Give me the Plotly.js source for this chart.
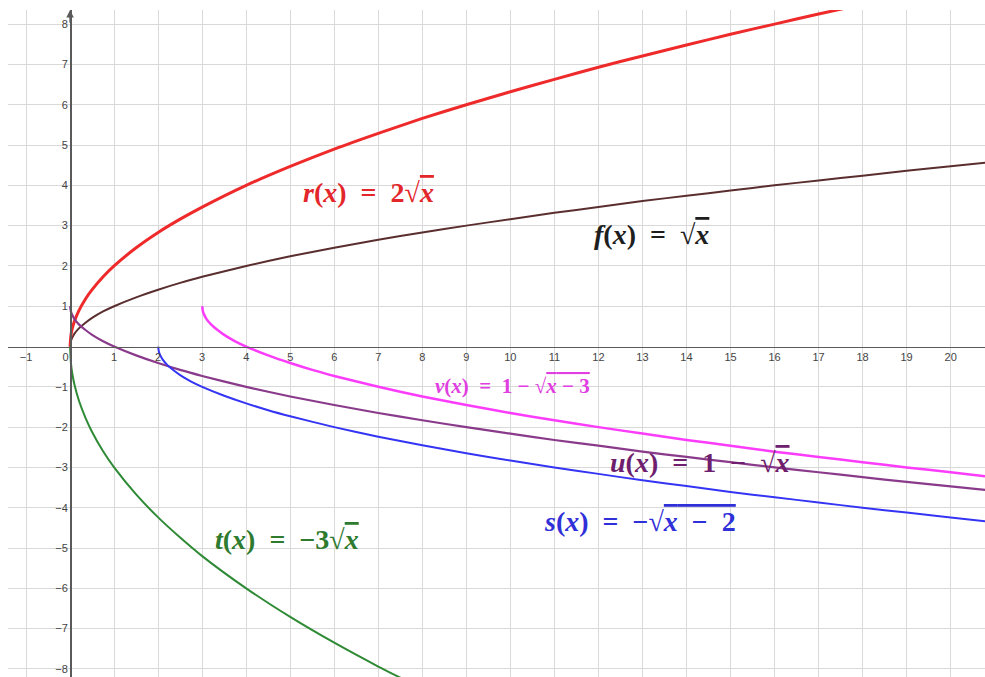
<!DOCTYPE html>
<html>
<head>
<meta charset="utf-8">
<script src="https://cdn.plot.ly/plotly-3.0.1.min.js"></script>
<style>html,body{margin:0;padding:0;background:#fff;}#chart{width:985px;height:677px;}</style>
</head>
<body>
<div id="chart"></div>
<script>
// values
const fX = [0,0.02,0.05,0.1,0.2,0.35,0.5,0.75,1,1.5,2,2.5,3,4,5,6,7,8,9,10,11,12,13,14,15,16,17,18,19,20,20.8];
const fY = [0,0.14,0.22,0.32,0.45,0.59,0.71,0.87,1,1.22,1.41,1.58,1.73,2,2.24,2.45,2.65,2.83,3,3.16,3.32,3.46,3.61,3.74,3.87,4,4.12,4.24,4.36,4.47,4.56];

const rX = [0,0.02,0.05,0.1,0.2,0.35,0.5,0.75,1,1.5,2,2.5,3,4,5,6,7,8,9,10,11,12,13,14,15,16,17,18];
const rY = [0,0.28,0.45,0.63,0.89,1.18,1.41,1.73,2,2.45,2.83,3.16,3.46,4,4.47,4.90,5.29,5.66,6,6.32,6.63,6.93,7.21,7.48,7.75,8,8.25,8.49];

const tX = [0,0.02,0.05,0.1,0.2,0.35,0.5,0.75,1,1.5,2,2.5,3,4,5,6,7,8];
const tY = [0,-0.42,-0.67,-0.95,-1.34,-1.77,-2.12,-2.60,-3,-3.67,-4.24,-4.74,-5.20,-6,-6.71,-7.35,-7.94,-8.49];

const uX = [0,0.02,0.05,0.1,0.2,0.35,0.5,0.75,1,1.5,2,2.5,3,4,5,6,7,8,9,10,11,12,13,14,15,16,17,18,19,20,20.8];
const uY = [1,0.86,0.78,0.68,0.55,0.41,0.29,0.13,0,-0.22,-0.41,-0.58,-0.73,-1,-1.24,-1.45,-1.65,-1.83,-2,-2.16,-2.32,-2.46,-2.61,-2.74,-2.87,-3,-3.12,-3.24,-3.36,-3.47,-3.56];

const sX = [2,2.02,2.05,2.1,2.2,2.35,2.5,2.75,3,3.5,4,4.5,5,6,7,8,9,10,11,12,13,14,15,16,17,18,19,20,20.8];
const sY = [0,-0.14,-0.22,-0.32,-0.45,-0.59,-0.71,-0.87,-1,-1.22,-1.41,-1.58,-1.73,-2,-2.24,-2.45,-2.65,-2.83,-3,-3.16,-3.32,-3.46,-3.61,-3.74,-3.87,-4,-4.12,-4.24,-4.34];

const vX = [3,3.02,3.05,3.1,3.2,3.35,3.5,3.75,4,4.5,5,5.5,6,7,8,9,10,11,12,13,14,15,16,17,18,19,20,20.8];
const vY = [1,0.86,0.78,0.68,0.55,0.41,0.29,0.13,0,-0.22,-0.41,-0.58,-0.73,-1,-1.24,-1.45,-1.65,-1.83,-2,-2.16,-2.32,-2.46,-2.61,-2.74,-2.87,-3,-3.12,-3.22];

const xTicks = [-1,0,1,2,3,4,5,6,7,8,9,10,11,12,13,14,15,16,17,18,19,20];
const xTickText = ['\u22121','0\u00a0\u00a0\u00a0','1','2','3','4','5','6','7','8','9','10','11','12','13','14','15','16','17','18','19','20'];
const yTicks = [-8,-7,-6,-5,-4,-3,-2,-1,1,2,3,4,5,6,7,8];

const OV = 'text-decoration:overline';
const SP = '\u2002';
const labels = [
  {text:'<b><i>r</i>(<i>x</i>)'+SP+'='+SP+'2√<span style="'+OV+'"><i>x</i></span></b>', x:6.77, y:3.81, color:'#e3262a', size:28},
  {text:'<b><i>f</i>(<i>x</i>)'+SP+'='+SP+'√<span style="'+OV+'"><i>x</i></span></b>', x:13.2, y:2.77, color:'#1e1e1e', size:28},
  {text:'<b><i>v</i>(<i>x</i>)'+SP+'='+SP+'1 − √<span style="'+OV+'"><i>x</i> − 3</span></b>', x:10.04, y:-0.98, color:'#e03ee0', size:21},
  {text:'<b><i>u</i>(<i>x</i>)'+SP+'='+SP+'1'+SP+'−'+SP+'√<span style="'+OV+'"><i>x</i></span></b>', x:14.31, y:-2.87, color:'#6e1f6e', size:28},
  {text:'<b><i>s</i>(<i>x</i>)'+SP+'='+SP+'−√<span style="'+OV+'"><i>x</i>'+SP+'−'+SP+'2</span></b>', x:12.95, y:-4.35, color:'#3030d8', size:28},
  {text:'<b><i>t</i>(<i>x</i>)'+SP+'='+SP+'−3√<span style="'+OV+'"><i>x</i></span></b>', x:4.93, y:-4.8, color:'#2e7a2e', size:28}
];

const xRange = [-1.41, 20.78];
const yRange = [-8.2, 8.35];

const traces = [
  {x:fX, y:fY, color:'#5a2e2e', w:2},
  {x:rX, y:rY, color:'#ee2a2a', w:3},
  {x:tX, y:tY, color:'#2f8a35', w:2},
  {x:uX, y:uY, color:'#8a3a8a', w:2.2},
  {x:sX, y:sY, color:'#3434f4', w:2},
  {x:vX, y:vY, color:'#fb3cfb', w:2.5}
].map(d => ({x:d.x, y:d.y, type:'scatter', mode:'lines', line:{color:d.color, width:d.w, shape:'spline', smoothing:0.6}, hoverinfo:'skip', showlegend:false, cliponaxis:true}));

const layout = {
  width:985, height:677, autosize:false,
  margin:{l:8, r:0, t:10, b:0, pad:0},
  paper_bgcolor:'#ffffff', plot_bgcolor:'#ffffff',
  showlegend:false,
  xaxis:{
    range:xRange, tickmode:'array', tickvals:xTicks, ticktext:xTickText,
    showgrid:true, gridcolor:'#d9d9d9', gridwidth:1, zeroline:false,
    showline:true, linecolor:'#5a5a5a', linewidth:1.5,
    anchor:'free', position:(0 - yRange[0]) / (yRange[1] - yRange[0]),
    ticks:'', tickfont:{family:'Liberation Sans, Arial, sans-serif', size:11, color:'#444'},
    fixedrange:true
  },
  yaxis:{
    range:yRange, tickmode:'array', tickvals:yTicks,
    showgrid:true, gridcolor:'#d9d9d9', gridwidth:1, zeroline:false,
    showline:true, linecolor:'#5a5a5a', linewidth:1.5,
    anchor:'free', position:(0 - xRange[0]) / (xRange[1] - xRange[0]),
    ticks:'', tickfont:{family:'Liberation Sans, Arial, sans-serif', size:11, color:'#444'},
    fixedrange:true
  },
  annotations: labels.map(l => ({
    text:l.text, x:l.x, y:l.y, xref:'x', yref:'y', showarrow:false,
    font:{family:'Liberation Serif', size:l.size, color:l.color},
    xanchor:'center', yanchor:'middle'
  })).concat([{
    x:0, y:yRange[1], xref:'x', yref:'y', ax:0, ay:14, axref:'pixel', ayref:'pixel',
    showarrow:true, arrowhead:2, arrowsize:1, arrowwidth:1.5, arrowcolor:'#5a5a5a', text:''
  }])
};

Plotly.newPlot('chart', traces, layout, {staticPlot:true, displayModeBar:false});
</script>
</body>
</html>
